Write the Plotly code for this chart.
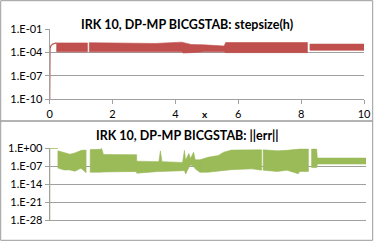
import plotly.graph_objects as go

# ---------------- data ----------------
# Top chart: stepsize(h), log10 values
h_ramp_x = [0, 0, 0.01, 0.04, 0.1, 0.17, 0.22]
h_ramp_log = [-10.5, -4.2, -3.5, -3.1, -2.9, -2.8, -2.75]
h_seg_x = [
    [0.22, 0.7, 1.20],
    [1.26, 2.3, 3.35, 4.2, 4.25, 4.5, 4.9, 5.55, 5.6, 6.5, 8.2],
    [8.28, 10.0],
]
h_seg_hi = [
    [-2.75, -2.78, -2.75],
    [-2.72, -2.8, -2.82, -2.65, -2.7, -2.95, -3.0, -3.15, -2.7, -2.72, -2.7],
    [-2.9, -2.9],
]
h_seg_lo = [
    [-3.9, -3.92, -3.9],
    [-3.9, -3.95, -3.9, -3.9, -4.05, -4.0, -3.9, -3.9, -4.0, -4.0, -4.0],
    [-3.7, -3.7],
]

# Bottom chart: ||err||, log10 values
e_ramp_x = [0, 0, 0.26]
e_ramp_log = [-28, 0, 0]
e_seg_x = [
    [0.26, 0.45, 0.64, 0.8, 0.95, 1.0, 1.15],
    [1.28, 1.6, 1.64, 1.7, 2.75],
    [2.75, 3.45, 3.5, 3.55, 4.2, 4.26, 4.3],
    [4.3, 4.4, 4.45, 4.55, 4.6, 4.75],
    [4.75, 5.0, 5.33, 5.5, 5.75, 6.4, 6.7],
    [6.75, 7.2, 7.5, 7.86, 7.9, 8.18],
    [8.28, 8.44, 8.46, 10.0],
]
e_seg_hi = [
    [-1.0, -1.5, -2.3, -1.8, -1.0, -0.8, -0.7],
    [-0.5, -0.4, 0.0, -2.4, -2.5],
    [-5.0, -5.2, -1.0, -5.2, -5.5, -0.8, -5.0],
    [-4.5, -2.0, -4.0, -1.5, -4.5, -4.5],
    [-4.5, -3.5, -2.8, -1.5, -0.7, -0.5, -0.6],
    [-0.6, -1.0, -0.8, -0.4, -0.3, -0.3],
    [-0.3, -0.3, -3.8, -3.8],
]
e_seg_lo = [
    [-7.7, -8.4, -8.4, -8.9, -8.0, -7.9, -9.5],
    [-9.3, -9.3, -9.3, -9.2, -9.0],
    [-9.7, -9.0, -9.0, -9.0, -8.7, -8.7, -9.9],
    [-9.9, -7.5, -6.5, -7.0, -8.0, -9.3],
    [-9.3, -9.3, -9.0, -8.7, -8.3, -8.0, -8.5],
    [-8.5, -9.0, -8.5, -9.9, -9.0, -9.0],
    [-7.5, -7.5, -6.1, -6.1],
]

top_title = "IRK 10, DP-MP BICGSTAB: stepsize(h)"
bot_title = "IRK 10, DP-MP BICGSTAB: ||err||"
x_ticks = [0, 2, 4, 6, 8, 10]
top_yticks = [-1, -4, -7, -10]
top_yticktext = ["1.E-01", "1.E-04", "1.E-07", "1.E-10"]
bot_yticks = [0, -7, -14, -21, -28]
bot_yticktext = ["1.E+00", "1.E-07", "1.E-14", "1.E-21", "1.E-28"]

RED = "#C0504D"
GREEN = "#9BBB59"
GRID = "#A0A0A0"
FONT = "Lato"
W, H = 374, 243


def polys(xs, his, los):
    px, py = [], []
    for x, hi, lo in zip(xs, his, los):
        px += list(x) + list(reversed(x)) + [x[0], None]
        py += [10 ** v for v in hi] + [10 ** v for v in reversed(lo)] + [10 ** hi[0], None]
    return px, py


fig = go.Figure()

hx, hy = polys(h_seg_x, h_seg_hi, h_seg_lo)
fig.add_trace(go.Scatter(x=hx, y=hy, fill="toself", fillcolor=RED, mode="lines",
                         line=dict(color=RED, width=0.6), xaxis="x", yaxis="y",
                         hoverinfo="skip"))
fig.add_trace(go.Scatter(x=h_ramp_x, y=[10 ** v for v in h_ramp_log], mode="lines",
                         line=dict(color=RED, width=1.2), xaxis="x", yaxis="y"))

ex, ey = polys(e_seg_x, e_seg_hi, e_seg_lo)
fig.add_trace(go.Scatter(x=ex, y=ey, fill="toself", fillcolor=GREEN, mode="lines",
                         line=dict(color=GREEN, width=0.6), xaxis="x2", yaxis="y2",
                         hoverinfo="skip"))
fig.add_trace(go.Scatter(x=e_ramp_x, y=[10 ** v for v in e_ramp_log], mode="lines",
                         line=dict(color=GREEN, width=1.2), xaxis="x2", yaxis="y2"))

tickfont = dict(family=FONT, size=11, color="#000000")

fig.update_layout(
    width=W, height=H, margin=dict(l=0, r=0, t=0, b=0),
    paper_bgcolor="white", plot_bgcolor="white", showlegend=False,
    font=dict(family=FONT, color="#000000"),
    xaxis=dict(domain=[49.7 / W, 364 / W], anchor="y", range=[0, 10],
               tickvals=x_ticks, ticks="outside", ticklen=4, tickcolor=GRID,
               showline=True, linecolor=GRID, linewidth=1, showgrid=False,
               zeroline=False, tickfont=tickfont, automargin=False),
    yaxis=dict(domain=[1 - 99.3 / H, 1 - 29.3 / H], anchor="x", type="log",
               range=[-10, -1], tickvals=[10 ** v for v in top_yticks],
               ticktext=top_yticktext, ticks="outside", ticklen=4, tickcolor=GRID,
               showline=True, linecolor=GRID, showgrid=True, gridcolor=GRID,
               gridwidth=1, zeroline=False, tickfont=tickfont, automargin=False),
    xaxis2=dict(domain=[49.7 / W, 366 / W], anchor="y2", range=[0, 10],
                showticklabels=False, ticks="", showline=True, linecolor=GRID,
                showgrid=False, zeroline=False, automargin=False),
    yaxis2=dict(domain=[1 - 220.3 / H, 1 - 148.3 / H], anchor="x2", type="log",
                range=[-28, 0], tickvals=[10 ** v for v in bot_yticks],
                ticktext=bot_yticktext, ticks="outside", ticklen=4, tickcolor=GRID,
                showline=True, linecolor=GRID, showgrid=True, gridcolor=GRID,
                gridwidth=1, zeroline=False, tickfont=tickfont, automargin=False),
)

# chart borders
fig.add_shape(type="rect", xref="paper", yref="paper",
              x0=0.7 / W, x1=372.7 / W, y0=1 - 121 / H, y1=1 - 0.7 / H,
              line=dict(color="#9A9A9A", width=1))
fig.add_shape(type="rect", xref="paper", yref="paper",
              x0=0.7 / W, x1=372.7 / W, y0=1 - 240.3 / H, y1=1 - 121 / H,
              line=dict(color="#9A9A9A", width=1))

# titles
fig.add_annotation(text="<b>" + top_title + "</b>", xref="paper", yref="paper",
                   x=187 / W, y=1 - 14.5 / H, showarrow=False,
                   font=dict(family=FONT, size=12.5, color="#000000"))
fig.add_annotation(text="<b>" + bot_title + "</b>", xref="paper", yref="paper",
                   x=187 / W, y=1 - 135 / H, showarrow=False,
                   font=dict(family=FONT, size=12.5, color="#000000"))
fig.add_annotation(text="<b>x</b>", xref="paper", yref="paper",
                   x=205 / W, y=1 - 114 / H, showarrow=False,
                   font=dict(family=FONT, size=10, color="#000000"))

fig.write_html("out.html", config={"displayModeBar": False},
               post_script="document.body.style.margin='0';document.body.style.padding='0';document.body.style.overflow='hidden';")
